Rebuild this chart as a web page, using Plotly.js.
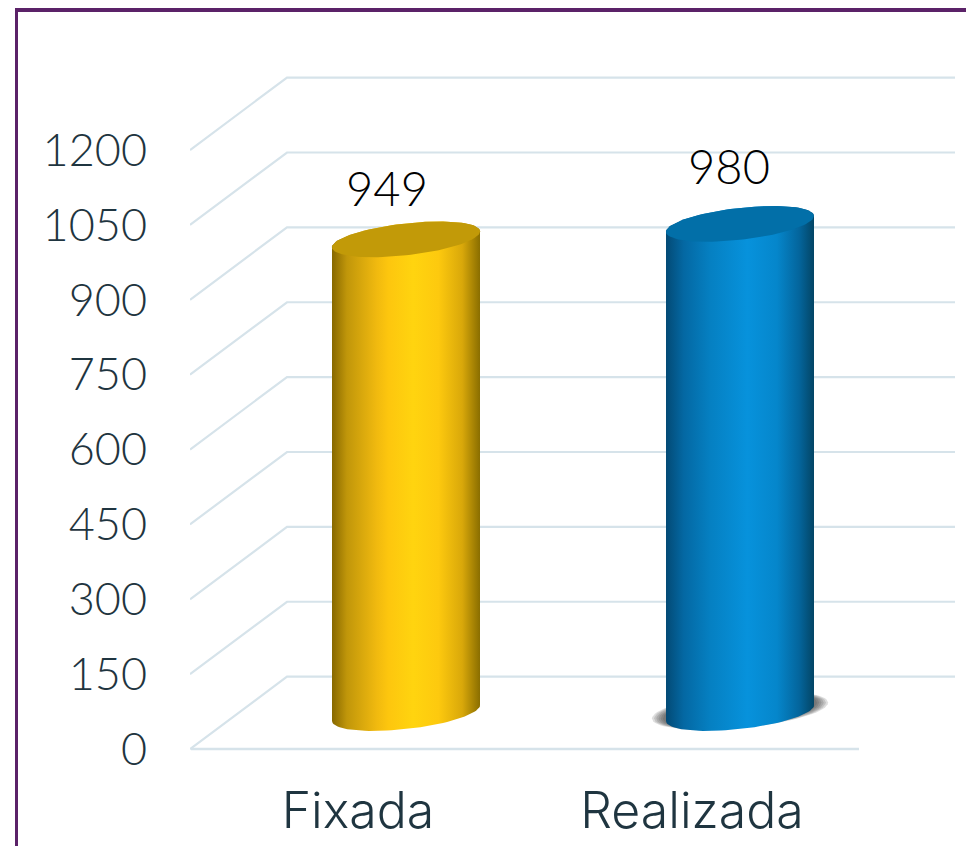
<!DOCTYPE html>
<html><head><meta charset="utf-8">
<script src="https://cdn.plot.ly/plotly-3.0.1.min.js"></script>
<style>html,body{margin:0;padding:0;background:#fff;overflow:hidden}#c{width:966px;height:846px}</style>
</head><body><div id="c"></div>
<script>
const categories = ["Fixada", "Realizada"];
const values = [949, 980];
const yTicks = [0, 150, 300, 450, 600, 750, 900, 1050, 1200];

const W = 966, H = 846, L = 190, R = 955, T = 70, ZERO = 749;
const pxPerUnitY = 599 / 1200, pxPerUnitX = 334, x0Px = 358;
const yPad = 10;                       // a little axis room below zero so the floor line is whole
const B = ZERO + yPad * pxPerUnitY;
const xRange = [(L - x0Px) / pxPerUnitX, (R - x0Px) / pxPerUnitX];
const yRange = [-yPad, (ZERO - T) / pxPerUnitY];
const depthX = 97 / pxPerUnitX, depthY = 145;
const midX = 48 / pxPerUnitX, midY = 72;
const a = 74 / pxPerUnitX, b = 32, s = 16;

const gridColor = "#d6e3ea", textColor = "#1f3540", FONT = "Lato, 'Noto Sans', sans-serif";
const grads = [
  [[0,"#876800"],[0.1,"#c0960a"],[0.3,"#f0b90f"],[0.38,"#fdc60e"],[0.55,"#ffd40f"],[0.72,"#fdc90e"],[0.88,"#d9a80a"],[1,"#8a6e00"]],
  [[0,"#034a75"],[0.12,"#0468a3"],[0.3,"#0580c2"],[0.55,"#0792dc"],[0.75,"#0586cb"],[0.9,"#04659c"],[1,"#034565"]]
];
const topColors = ["#c29a08", "#026fa8"];

const traces = [];
yTicks.forEach(v => {
  traces.push({type:"scatter", mode:"lines", hoverinfo:"skip", showlegend:false,
    x: [xRange[0], xRange[0] + depthX, xRange[1]],
    y: [v, v + depthY, v + depthY],
    line: {color: gridColor, width: 2.2}, cliponaxis:false});
  if (v === 0) traces.push({type:"scatter", mode:"lines", hoverinfo:"skip", showlegend:false,
    x: [-0.5, 1.5], y: [0, 0], line: {color: gridColor, width: 2.6}, cliponaxis:false});
});

function ellipse(cx, cy, ax, by, sk, from, to, n) {
  const xs = [], ys = [];
  for (let i = 0; i <= n; i++) {
    const t = from + (to - from) * i / n;
    xs.push(cx + ax * Math.cos(t));
    ys.push(cy + by * Math.sin(t) + sk * Math.cos(t));
  }
  return [xs, ys];
}
// soft shadow beneath the second cylinder
const shadowLayers = [1.19, 1.16, 1.13, 1.10, 1.07, 1.04];
shadowLayers.forEach(k => {
  const [sx, sy] = ellipse(1 + midX, midY + 5, a * k, b * (1 + (k - 1) * 0.5), s, 0, 2 * Math.PI, 72);
  traces.push({type:"scatter", mode:"lines", fill:"toself", hoverinfo:"skip", showlegend:false,
    x: sx, y: sy, line:{width:0}, fillcolor:"rgba(50,50,50,0.16)"});
});
// cylinders
values.forEach((v, i) => {
  const cx = i + midX, yTop = v + midY, yBot = midY;
  const [fx, fy] = ellipse(cx, yBot, a, b, s, Math.PI, 2 * Math.PI, 48);
  const [bx, by] = ellipse(cx, yTop, a, b, s, 0, Math.PI, 48);
  traces.push({type:"scatter", mode:"lines", fill:"toself", hoverinfo:"skip", showlegend:false,
    x: fx.concat(bx), y: fy.concat(by), line:{width:0},
    fillgradient:{type:"horizontal", colorscale:grads[i]}});
  const [tx, ty] = ellipse(cx, yTop, a, b, s, 0, 2 * Math.PI, 96);
  traces.push({type:"scatter", mode:"lines", fill:"toself", hoverinfo:"skip", showlegend:false,
    x: tx, y: ty, line:{width:0}, fillcolor:topColors[i]});
});
// value labels
const labelDx = [29, 37];
const labelDy = [81, 88];
traces.push({type:"scatter", mode:"text", hoverinfo:"skip", showlegend:false, cliponaxis:false,
  x: values.map((v, i) => i + labelDx[i] / pxPerUnitX),
  y: values.map((v, i) => v + labelDy[i] / pxPerUnitY),
  text: values.map(String), textposition:"middle center",
  textfont:{family:FONT, size:47, color:"#000", weight:300}});

const fx = p => (p - L) / (R - L), fy = p => (B - p) / (B - T);
const layout = {
  width: W, height: H, paper_bgcolor:"#fff", plot_bgcolor:"rgba(0,0,0,0)", showlegend:false, hovermode:false,
  margin:{l:L, r:W - R, t:T, b:H - B, pad:0},
  font:{family:FONT, color:textColor},
  xaxis:{range:xRange, tickmode:"array", tickvals:categories.map((c, i) => i), ticktext:categories,
    showgrid:false, zeroline:false, showline:false, ticks:"outside", ticklen:13, tickcolor:"rgba(0,0,0,0)",
    tickfont:{family:"Inter, Lato, sans-serif", size:50, color:textColor, weight:300}, fixedrange:true},
  yaxis:{range:yRange, tickmode:"array", tickvals:yTicks, ticktext:yTicks.map(String),
    showgrid:false, zeroline:false, showline:false, ticks:"outside", ticklen:33, tickcolor:"rgba(0,0,0,0)",
    tickfont:{family:FONT, size:45, color:textColor, weight:300}, fixedrange:true},
  shapes:[
    {type:"line", xref:"paper", yref:"paper", x0:fx(15), x1:fx(966), y0:fy(10), y1:fy(10), line:{color:"#5b2268", width:4}},
    {type:"line", xref:"paper", yref:"paper", x0:fx(16.5), x1:fx(16.5), y0:fy(8), y1:fy(846), line:{color:"#5b2268", width:3}}
  ]
};
Plotly.newPlot("c", traces, layout, {displayModeBar:false, staticPlot:true});
</script></body></html>
